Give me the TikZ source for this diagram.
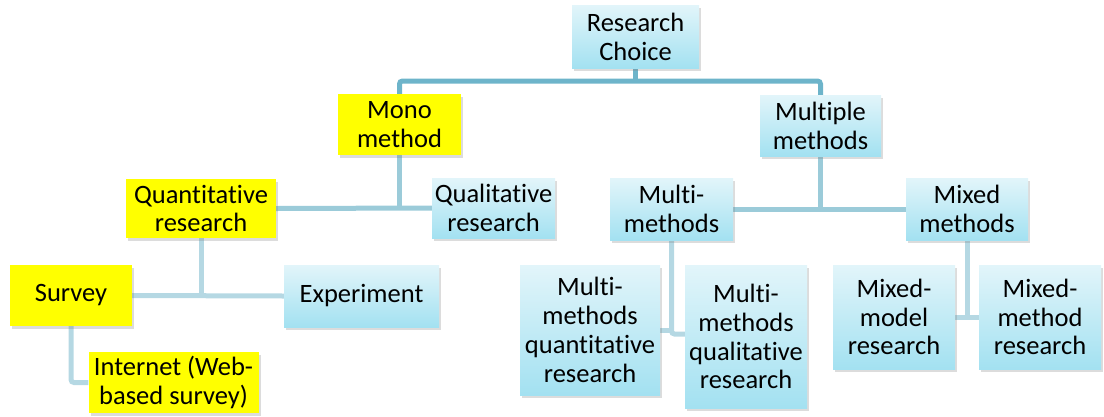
\documentclass[tikz,border=0pt]{standalone}
\usepackage{fontspec}
\setmainfont{Carlito}[Ligatures=NoCommon]
\usetikzlibrary{shadows,backgrounds}
\definecolor{boxtop}{HTML}{E2F5FA}
\definecolor{boxbot}{HTML}{A3E1F1}
\definecolor{hilite}{HTML}{FFFF00}
\definecolor{linkA}{HTML}{6DB4CA}
\definecolor{linkB}{HTML}{9BCBD9}
\definecolor{linkC}{HTML}{B5D8E3}
\tikzset{
  x=1pt, y=-1pt,
  base/.style={rectangle, inner sep=0pt, align=center,
    font=\fontsize{26.5}{28.8}\selectfont,
    drop shadow={opacity=0.28, shadow xshift=2pt, shadow yshift=-2.5pt}},
  bluebox/.style={base, top color=boxtop, bottom color=boxbot},
  yelbox/.style={base, fill=hilite},
  link/.style={line width=5pt, line cap=butt, rounded corners=3pt},
  linka/.style={link, draw=linkA},
  linkb/.style={link, draw=linkB},
  linkc/.style={link, draw=linkC},
}
\begin{document}
\begin{tikzpicture}
\useasboundingbox (0,0) rectangle (1104,416);

% boxes
\node[bluebox, minimum width=127pt, minimum height=63pt] (rc) at (635.5,36.5) {Research\\Choice};
\node[yelbox, minimum width=123pt, minimum height=61pt] (mono) at (399.5,124.5) {Mono\\method};
\node[bluebox, minimum width=121pt, minimum height=61pt] (mult) at (820.5,125.5) {Multiple\\methods};
\node[yelbox, minimum width=150pt, minimum height=59pt] (quant) at (201,208.5) {Quantitative\\research};
\node[bluebox, minimum width=123pt, minimum height=60pt] (qual) at (493.5,208) {Qualitative\\research};
\node[bluebox, minimum width=123pt, minimum height=62pt] (mm) at (671.5,209) {Multi-\\methods};
\node[bluebox, minimum width=122pt, minimum height=62pt] (mix) at (967,209) {Mixed\\methods};
\node[yelbox, minimum width=122pt, minimum height=61pt] (survey) at (71,295.5) {Survey};
\node[bluebox, minimum width=155pt, minimum height=62pt] (exp) at (361.5,296) {Experiment};
\node[yelbox, minimum width=170pt, minimum height=61pt] (inet) at (173.5,382.5) {Internet (Web-\\based survey)};
\node[bluebox, minimum width=140pt, minimum height=130pt] (mmqn) at (590,330) {Multi-\\methods\\quantitative\\research};
\node[bluebox, minimum width=122pt, minimum height=143pt] (mmql) at (746,336.5) {Multi-\\methods\\qualitative\\research};
\node[bluebox, minimum width=122pt, minimum height=104pt] (mxmo) at (894,317) {Mixed-\\model\\research};
\node[bluebox, minimum width=122pt, minimum height=104pt] (mxme) at (1040,317) {Mixed-\\method\\research};

% connectors
\coordinate (j1) at (635.5,81);
\coordinate (j5) at (671.5,334);
\begin{scope}[on background layer]
  \draw[linka] (rc.south) -- (j1);
  \draw[linka] (mono.north) |- (j1) -| (mult.north);

  \draw[linkb] (mono.south) -- (mono.south |- qual.west);
  \draw[linkb] (quant.east) -- (qual.west);
  \draw[linkb] (mult.south) -- (mult.south |- mm.east);
  \draw[linkb] (mm.east) -- (mix.west);

  \draw[linkc] (quant.south) -- (quant.south |- survey.east);
  \draw[linkc] (survey.east) -- (exp.west);
  \draw[linkc] (survey.south) |- (inet.west);
  \draw[linkc] (mm.south) |- (mmql.west |- j5);
  \draw[linkc] (mmqn.east) -- (mmqn.east -| j5);
  \draw[linkc] (mix.south) -- (mix.south |- mxmo.east);
  \draw[linkc] (mxmo.east) -- (mxme.west);
\end{scope}
\end{tikzpicture}
\end{document}
